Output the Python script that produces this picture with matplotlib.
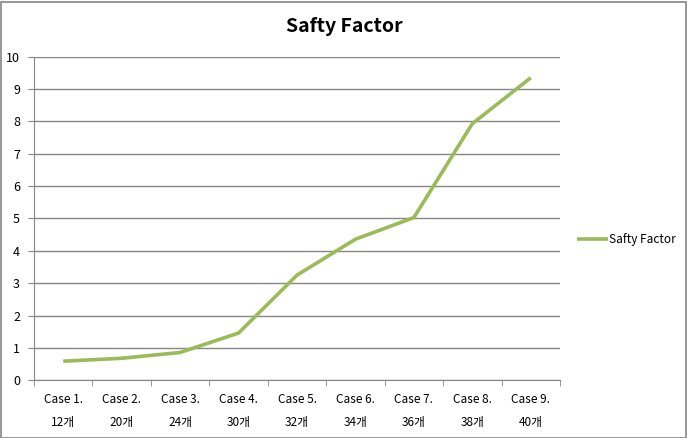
import matplotlib.pyplot as plt
from matplotlib.patches import Rectangle

plt.rcParams['font.family'] = ['Noto Sans CJK KR', 'DejaVu Sans']

cases = ['Case 1.', 'Case 2.', 'Case 3.', 'Case 4.', 'Case 5.',
         'Case 6.', 'Case 7.', 'Case 8.', 'Case 9.']
counts = ['12개', '20개', '24개', '30개', '32개', '34개', '36개', '38개', '40개']
safety = [0.59, 0.68, 0.86, 1.46, 3.25, 4.36, 5.03, 7.93, 9.35]

grey = '#868686'
green = '#9BBB59'

fig = plt.figure(figsize=(6.88, 4.38), dpi=100)
ax = fig.add_axes([34/688, 1 - 380.3/438, 526/688, 323.6/438])

x = list(range(len(cases)))
ax.plot(x, safety, color=green, lw=2.6, label='Safty Factor', solid_capstyle='butt')

ax.set_xlim(-0.5, len(cases) - 0.5)
ax.set_ylim(0, 10)
ax.set_yticks(range(0, 11))
ax.yaxis.grid(True, color=grey, lw=1)
ax.set_axisbelow(True)

# labels at category centres, tick marks at boundaries
ax.set_xticks(x)
ax.set_xticklabels([c + '\n' + n for c, n in zip(cases, counts)], linespacing=2.0)
ax.set_xticks([i - 0.5 for i in range(len(cases) + 1)], minor=True)
ax.tick_params(axis='x', which='major', length=0, pad=9, labelsize=8.5, colors='black')
ax.tick_params(axis='x', which='minor', length=4, color=grey, direction='out')
ax.tick_params(axis='y', length=4, color=grey, labelsize=9, pad=6)

for s in ['top', 'right']:
    ax.spines[s].set_visible(False)
for s in ['left', 'bottom']:
    ax.spines[s].set_color(grey)

fig.text(0.5, 1 - 27/438, 'Safty Factor', ha='center', va='center',
         fontsize=14, fontweight='bold')

ax.legend(loc='center left', bbox_to_anchor=(1.013, 0.435),
          frameon=False, fontsize=8.5, handlelength=2.6, handletextpad=0.1)

fig.patches.append(Rectangle((0.5/688, 0.5/438), 685/688, 436/438,
                             transform=fig.transFigure, fill=False,
                             edgecolor=grey, lw=1.2))

fig.savefig('out.png', dpi=100)
